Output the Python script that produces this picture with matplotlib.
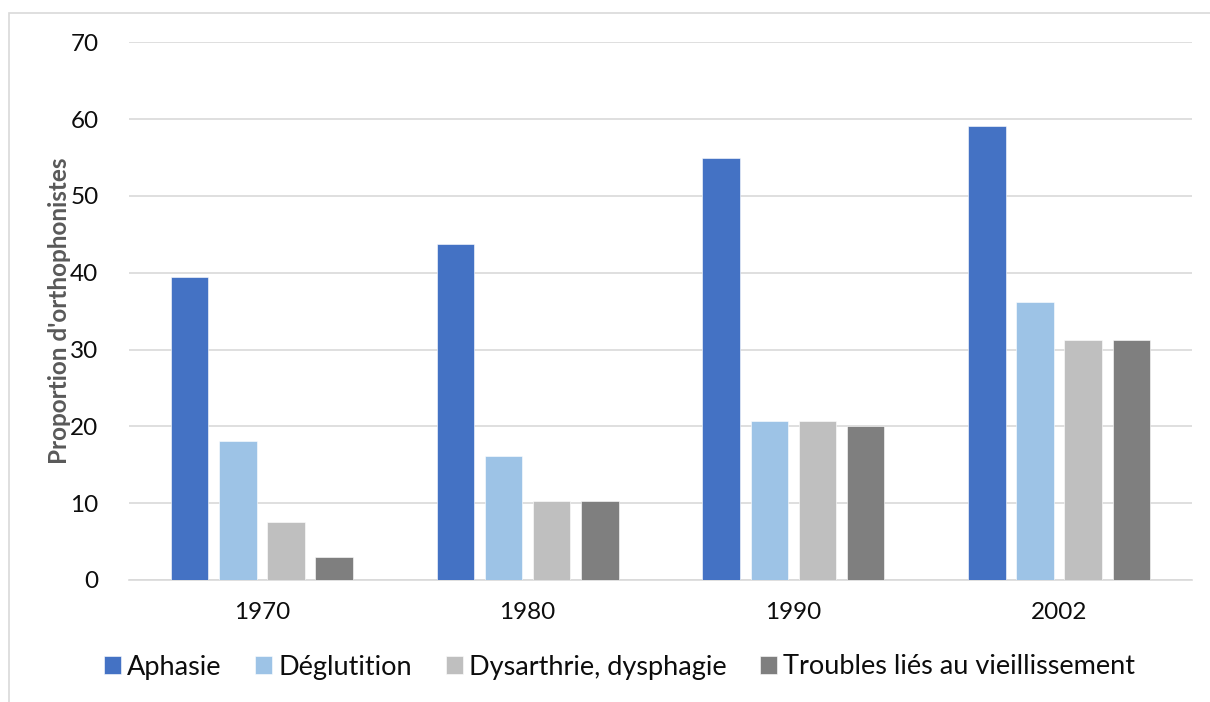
import matplotlib
matplotlib.use("Agg")
import matplotlib.pyplot as plt
import matplotlib.patches as mpatches
import numpy as np

plt.rcParams['font.family'] = ['Lato', 'DejaVu Sans']

years = ["1970", "1980", "1990", "2002"]
series_names = ["Aphasie", "Déglutition", "Dysarthrie, dysphagie", "Troubles liés au vieillissement"]
aphasie = [39.4, 43.7, 54.9, 59.1]
deglutition = [18.1, 16.1, 20.65, 36.2]
dysarthrie = [7.5, 10.3, 20.65, 31.2]
troubles = [3.0, 10.3, 20.1, 31.2]
colors = ["#4472C4", "#9DC3E6", "#BFBFBF", "#7F7F7F"]
yticks = [0, 10, 20, 30, 40, 50, 60, 70]

W, H = 1210, 702
fig = plt.figure(figsize=(W / 100, H / 100), dpi=100)
ax = fig.add_axes([129 / W, 1 - 580 / H, (1192 - 129) / W, (580 - 42.3) / H])

x = np.arange(len(years))
bw = 0.141
step = 0.181
data = [aphasie, deglutition, dysarthrie, troubles]
for i, (vals, name, c) in enumerate(zip(data, series_names, colors)):
    ax.bar(x + (i - 1.5) * step, vals, width=bw, color=c, label=name,
           edgecolor="white", linewidth=0.4, zorder=3)

ax.set_xlim(-0.5, 3.5)
ax.set_ylim(0, 70)
ax.set_yticks(yticks)
ax.set_xticks(x)
ax.set_xticklabels(years)
ax.grid(axis="y", color="#D9D9D9", linewidth=1.2, zorder=0)
for s in ["top", "right", "left"]:
    ax.spines[s].set_visible(False)
ax.spines["bottom"].set_color("#D9D9D9")
ax.spines["bottom"].set_linewidth(1.2)
ax.tick_params(axis="both", length=0, labelsize=17.5, colors="#0d0d0d")
ax.tick_params(axis="y", pad=22)
ax.tick_params(axis="x", pad=16)

fig.text(60 / W, 1 - 311 / H, "Proportion d'orthophonistes", rotation=90,
         ha="center", va="center", fontsize=17.5, fontweight="bold", color="#595959")

fig.legend(loc="center", bbox_to_anchor=(619.5 / W, 1 - 667 / H), ncol=4,
           frameon=False, fontsize=19.5, handlelength=0.63, handleheight=0.63,
           handletextpad=0.22, columnspacing=1.25, labelcolor="#0d0d0d")

frame = mpatches.Rectangle((9 / W, -0.1), 1.2, 1 - 13 / H + 0.1, transform=fig.transFigure,
                           fill=False, edgecolor="#D9D9D9", linewidth=1.2)
fig.patches.append(frame)

fig.savefig("out.png", dpi=100)
